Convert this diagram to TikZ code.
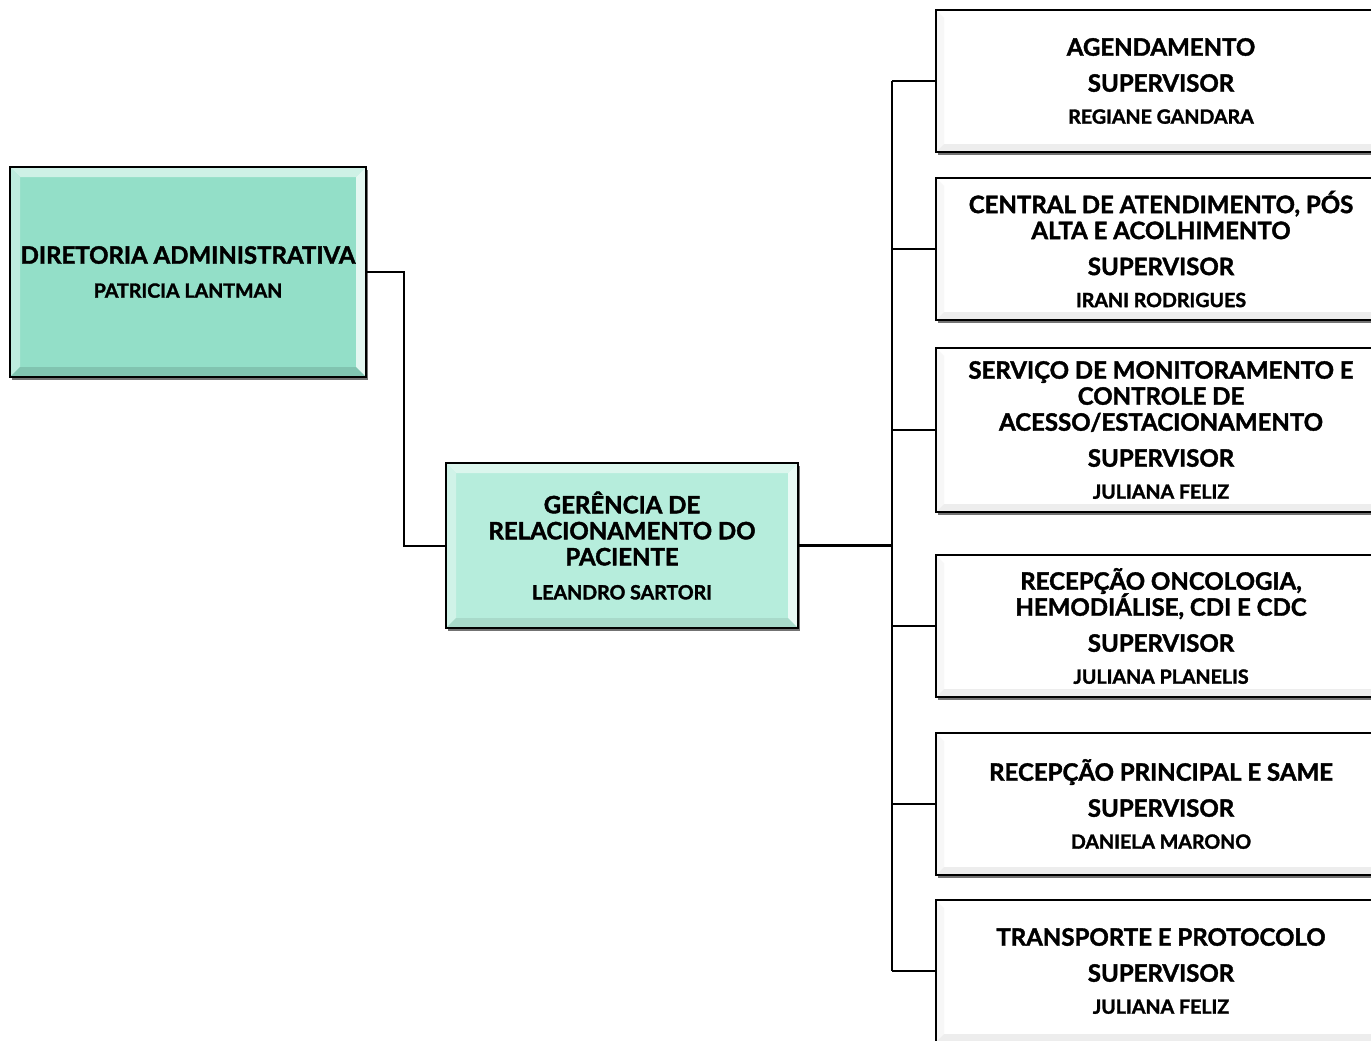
\documentclass[tikz,border=0pt]{standalone}
\usepackage{fontspec}
\setmainfont{Lato}[BoldFeatures={FakeBold=1.6}]
\usetikzlibrary{shadows}
\definecolor{dirfill}{HTML}{93DFC8}
\definecolor{gerfill}{HTML}{B6EDDC}
\newcommand{\nome}[1]{{\fontsize{9.8}{13}\selectfont #1}}
\newcommand{\boxfont}{\fontsize{12}{13}\selectfont\bfseries\setlength{\lineskiplimit}{-20pt}}
\tikzset{
  box/.style={draw=black, line width=1pt, inner sep=0pt, align=center,
    minimum width=225pt, minimum height=71pt, font=\boxfont,
    drop shadow={shadow xshift=1.2pt, shadow yshift=-1.5pt, fill=black!55, opacity=1}},
  bevel/.style n args={6}{fill=#1, path picture={
    \coordinate (bnw) at (path picture bounding box.north west);
    \coordinate (bse) at (path picture bounding box.south east);
    \coordinate (bne) at (bnw -| bse);
    \coordinate (bsw) at (bse -| bnw);
    \coordinate (inw) at ([shift={(#6,-#6)}]bnw);
    \coordinate (ine) at ([shift={(-#6,-#6)}]bne);
    \coordinate (ise) at ([shift={(-#6,#6)}]bse);
    \coordinate (isw) at ([shift={(#6,#6)}]bsw);
    \fill[#2] (bnw) -- (bne) -- (ine) -- (inw) -- cycle;
    \fill[#3] (bnw) -- (inw) -- (isw) -- (bsw) -- cycle;
    \fill[#4] (bne) -- (bse) -- (ise) -- (ine) -- cycle;
    \fill[#5] (bsw) -- (isw) -- (ise) -- (bse) -- cycle;
  }},
  dirbox/.style={box, bevel={dirfill}{dirfill!45!white}{dirfill!60!white}{dirfill!25!white}{dirfill!88!black}{5pt}},
  gerbox/.style={box, bevel={gerfill}{gerfill!50!white}{gerfill!65!white}{gerfill!30!white}{gerfill!92!black}{5pt}},
  supbox/.style={box, bevel={white}{white}{black!3}{black!9}{black!7}{4pt}},
  link/.style={line width=1pt}
}
\begin{document}
\begin{tikzpicture}[x=0.5pt,y=-0.5pt]
\useasboundingbox (0,0) rectangle (1371,1040);
\clip (0,0) rectangle (1371,1040);

\node[dirbox, minimum width=178pt, minimum height=105pt] (dir) at (188,272)
  {DIRETORIA ADMINISTRATIVA\\[4pt]\nome{PATRICIA LANTMAN}};
\node[gerbox, minimum width=176pt, minimum height=82.5pt] (ger) at (622,545.5)
  {GERÊNCIA DE\\RELACIONAMENTO DO\\PACIENTE\\[4pt]\nome{LEANDRO SARTORI}};

\node[supbox] (s1) at (1161,81)
  {AGENDAMENTO\\[5pt]SUPERVISOR\\[3pt]\nome{REGIANE GANDARA}};
\node[supbox] (s2) at (1161,249)
  {CENTRAL DE ATENDIMENTO, PÓS\\ALTA E ACOLHIMENTO\\[5pt]SUPERVISOR\\[3pt]\nome{IRANI RODRIGUES}};
\node[supbox, minimum height=82pt] (s3) at (1161,430)
  {SERVIÇO DE MONITORAMENTO E\\CONTROLE DE\\ACESSO/ESTACIONAMENTO\\[5pt]SUPERVISOR\\[3pt]\nome{JULIANA FELIZ}};
\node[supbox] (s4) at (1161,626)
  {RECEPÇÃO ONCOLOGIA,\\HEMODIÁLISE, CDI E CDC\\[5pt]SUPERVISOR\\[3pt]\nome{JULIANA PLANELIS}};
\node[supbox] (s5) at (1161,804)
  {RECEPÇÃO PRINCIPAL E SAME\\[5pt]SUPERVISOR\\[3pt]\nome{DANIELA MARONO}};
\node[supbox] (s6) at (1161,971)
  {TRANSPORTE E PROTOCOLO\\[5pt]SUPERVISOR\\[3pt]\nome{JULIANA FELIZ}};

\coordinate (trunk) at (892,0);
\draw[link] (dir.east) -- ++(37,0) |- (ger.west);
\draw[line width=1.5pt] (ger.east) -- (ger.east -| trunk);
\draw[link] (s1.west -| trunk) -- (s6.west -| trunk);
\foreach \s in {s1,s2,s3,s4,s5,s6}
  \draw[link] (\s.west -| trunk) -- (\s.west);
\end{tikzpicture}
\end{document}
